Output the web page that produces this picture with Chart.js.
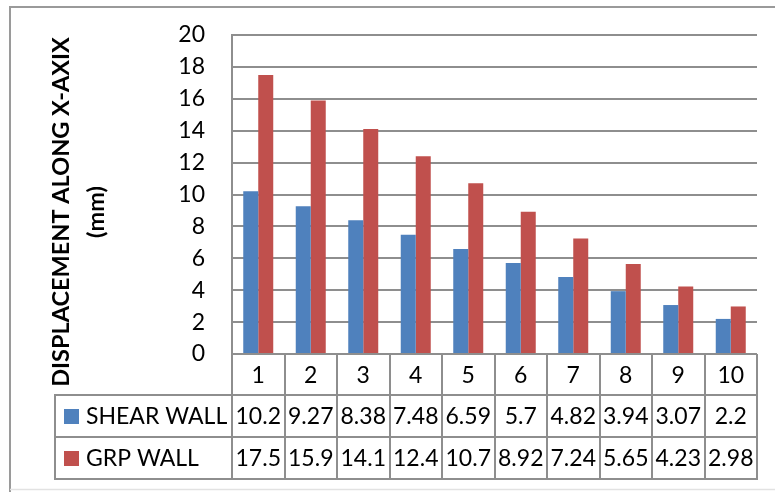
<!DOCTYPE html>
<html>
<head>
<meta charset="utf-8">
<script src="https://cdn.jsdelivr.net/npm/chart.js@4.4.1/dist/chart.umd.min.js"></script>
<style>
  html, body { margin: 0; padding: 0; background: #ffffff; }
  #wrap { width: 775px; height: 492px; position: relative; }
</style>
</head>
<body>
<div id="wrap"><canvas id="c" width="775" height="492"></canvas></div>
<script>
// Storey numbers along the horizontal axis
const storeys = ['1', '2', '3', '4', '5', '6', '7', '8', '9', '10'];
// Displacement along X (mm) for each wall system
const shearWall = [10.2, 9.27, 8.38, 7.48, 6.59, 5.7, 4.82, 3.94, 3.07, 2.2];
const grpWall = [17.5, 15.9, 14.1, 12.4, 10.7, 8.92, 7.24, 5.65, 4.23, 2.98];
const seriesNames = ['SHEAR WALL', 'GRP WALL'];
const seriesColors = ['#4F81BD', '#C0504D'];
const yTicks = [0, 2, 4, 6, 8, 10, 12, 14, 16, 18, 20];
const axisTitle = ['DISPLACEMENT ALONG X-AXIX', '(mm)'];

const FONT = 'Lato, "Open Sans", sans-serif';
const LINE = '#8e8e8e';

// Outer frame of the chart object
const framePlugin = {
  id: 'frame',
  beforeDraw(chart) {
    const ctx = chart.ctx;
    ctx.save();
    ctx.fillStyle = '#ffffff';
    ctx.fillRect(0, 0, chart.width, chart.height);
    ctx.strokeStyle = '#9a9a9a';
    ctx.lineWidth = 2;
    ctx.beginPath();
    ctx.moveTo(10, chart.height);
    ctx.lineTo(10, 7);
    ctx.lineTo(chart.width, 7);
    ctx.stroke();
    ctx.strokeStyle = '#e2e2e2';
    ctx.lineWidth = 1.5;
    ctx.beginPath();
    ctx.moveTo(10, 489.5);
    ctx.lineTo(chart.width, 489.5);
    ctx.stroke();
    ctx.restore();
  }
};

// Rotated two-line axis title
const titlePlugin = {
  id: 'axisTitle',
  afterDraw(chart) {
    const ctx = chart.ctx;
    ctx.save();
    ctx.fillStyle = '#000000';
    ctx.font = 'bold 23.5px ' + FONT;
    ctx.textAlign = 'center';
    ctx.textBaseline = 'middle';
    const xs = [61, 96];
    axisTitle.forEach((t, i) => {
      ctx.save();
      ctx.translate(xs[i], 212);
      ctx.rotate(-Math.PI / 2);
      ctx.fillText(t, 0, 0);
      ctx.restore();
    });
    ctx.restore();
  }
};

// Data table under the plot: storey header, legend keys and values
const tablePlugin = {
  id: 'dataTable',
  afterDraw(chart) {
    const ctx = chart.ctx;
    const area = chart.chartArea;
    const xs = chart.scales.x;
    const n = storeys.length;
    const colW = (area.right - area.left) / n;
    const legendLeft = 55;
    const rowTops = [area.bottom, area.bottom + 41, area.bottom + 83, area.bottom + 125];

    ctx.save();
    ctx.strokeStyle = LINE;
    ctx.lineWidth = 2;
    ctx.beginPath();
    // horizontal rules
    for (let r = 1; r < rowTops.length; r++) {
      ctx.moveTo(legendLeft, rowTops[r]);
      ctx.lineTo(area.right + 1, rowTops[r]);
    }
    // column rules
    for (let i = 0; i <= n; i++) {
      const x = Math.round(area.left + i * colW);
      ctx.moveTo(x, rowTops[0]);
      ctx.lineTo(x, rowTops[3] + 1);
    }
    ctx.moveTo(legendLeft, rowTops[1] - 1);
    ctx.lineTo(legendLeft, rowTops[3] + 1);
    ctx.stroke();

    ctx.fillStyle = '#000000';
    ctx.font = '23px ' + FONT;
    ctx.textAlign = 'center';
    ctx.textBaseline = 'middle';
    storeys.forEach((s, i) => {
      ctx.fillText(s, xs.getPixelForValue(i), (rowTops[0] + rowTops[1]) / 2 + 1);
    });

    chart.data.datasets.forEach((ds, r) => {
      const yMid = (rowTops[r + 1] + rowTops[r + 2]) / 2 + 1;
      ds.data.forEach((v, i) => {
        ctx.fillStyle = '#000000';
        ctx.textAlign = 'center';
        ctx.fillText(String(v), xs.getPixelForValue(i), yMid);
      });
      ctx.fillStyle = ds.backgroundColor;
      ctx.fillRect(64, yMid - 8, 15, 15);
      ctx.fillStyle = '#000000';
      ctx.textAlign = 'left';
      ctx.fillText(ds.label, 86, yMid);
    });
    ctx.restore();
  }
};

new Chart(document.getElementById('c'), {
  type: 'bar',
  data: {
    labels: storeys,
    datasets: [
      { label: seriesNames[0], data: shearWall, backgroundColor: seriesColors[0] },
      { label: seriesNames[1], data: grpWall, backgroundColor: seriesColors[1] }
    ]
  },
  options: {
    responsive: false,
    animation: false,
    devicePixelRatio: 1,
    layout: { padding: { left: 0, top: 35, right: 18, bottom: 138 } },
    datasets: { bar: { categoryPercentage: 0.5714, barPercentage: 1.0, borderWidth: 0 } },
    plugins: {
      legend: { display: false },
      tooltip: { enabled: false },
      title: { display: false }
    },
    scales: {
      x: { display: false },
      y: {
        min: 0,
        max: 20,
        afterBuildTicks(scale) { scale.ticks = yTicks.map(v => ({ value: v })); },
        afterFit(scale) { scale.width = 232; },
        ticks: {
          color: '#000000',
          font: { family: FONT, size: 23 },
          padding: 0
        },
        grid: { color: LINE, lineWidth: 2, drawTicks: true, tickLength: 27, tickColor: 'rgba(0,0,0,0)' },
        border: { display: true, color: LINE, width: 2 }
      }
    }
  },
  plugins: [framePlugin, titlePlugin, tablePlugin]
});
</script>
</body>
</html>
